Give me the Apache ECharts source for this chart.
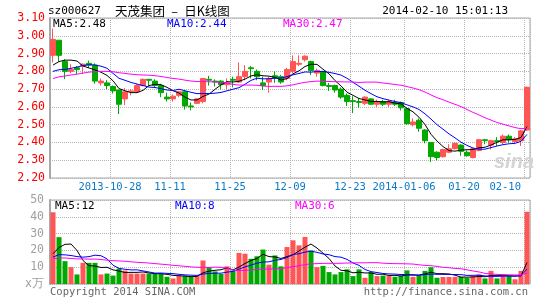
<!DOCTYPE html>
<html><head><meta charset="utf-8">
<script src="https://cdn.jsdelivr.net/npm/echarts@6/dist/echarts.min.js"></script>
<style>html,body{margin:0;padding:0;background:#fff}#c{width:545px;height:300px}</style>
</head><body><div id="c"></div>
<script>
const dates = [
'2013-10-14','2013-10-15','2013-10-16','2013-10-17','2013-10-18','2013-10-21','2013-10-22','2013-10-23','2013-10-24','2013-10-25',
'2013-10-28','2013-10-29','2013-10-30','2013-10-31','2013-11-01','2013-11-04','2013-11-05','2013-11-06','2013-11-07','2013-11-08',
'2013-11-11','2013-11-12','2013-11-13','2013-11-14','2013-11-15','2013-11-18','2013-11-19','2013-11-20','2013-11-21','2013-11-22',
'2013-11-25','2013-11-26','2013-11-27','2013-11-28','2013-11-29','2013-12-02','2013-12-03','2013-12-04','2013-12-05','2013-12-06',
'2013-12-09','2013-12-10','2013-12-11','2013-12-12','2013-12-13','2013-12-16','2013-12-17','2013-12-18','2013-12-19','2013-12-20',
'2013-12-23','2013-12-24','2013-12-25','2013-12-26','2013-12-27','2013-12-30','2013-12-31','2014-01-02','2014-01-03','2014-01-06',
'2014-01-07','2014-01-08','2014-01-09','2014-01-10','2014-01-13','2014-01-14','2014-01-15','2014-01-16','2014-01-17','2014-01-20',
'2014-01-21','2014-01-22','2014-01-23','2014-01-24','2014-01-27','2014-01-28','2014-01-29','2014-01-30','2014-02-07','2014-02-10'];

const openP = [2.89,2.975,2.855,2.80,2.82,2.83,2.845,2.835,2.735,2.735,
2.715,2.695,2.645,2.685,2.685,2.72,2.755,2.745,2.72,2.655,
2.645,2.665,2.685,2.605,2.62,2.63,2.755,2.745,2.745,2.725,
2.755,2.74,2.77,2.82,2.80,2.735,2.74,2.775,2.77,2.76,
2.80,2.84,2.865,2.855,2.79,2.80,2.72,2.72,2.70,2.665,
2.635,2.63,2.62,2.645,2.615,2.63,2.615,2.625,2.625,2.59,
2.50,2.525,2.47,2.40,2.345,2.32,2.345,2.365,2.385,2.345,
2.315,2.355,2.415,2.385,2.41,2.40,2.435,2.405,2.41,2.47];
const closeP = [2.98,2.89,2.80,2.81,2.81,2.84,2.835,2.745,2.745,2.72,
2.69,2.615,2.685,2.69,2.72,2.755,2.75,2.72,2.68,2.645,
2.66,2.685,2.605,2.60,2.645,2.76,2.75,2.74,2.725,2.735,
2.75,2.77,2.80,2.815,2.77,2.72,2.76,2.765,2.74,2.81,
2.855,2.845,2.885,2.805,2.805,2.72,2.715,2.695,2.655,2.63,
2.63,2.625,2.655,2.615,2.63,2.615,2.63,2.615,2.595,2.505,
2.515,2.48,2.41,2.32,2.315,2.36,2.365,2.395,2.35,2.325,
2.365,2.415,2.41,2.41,2.405,2.435,2.415,2.42,2.465,2.71];
const highP = [3.04,2.975,2.868,2.84,2.83,2.845,2.86,2.845,2.76,2.75,
2.72,2.695,2.705,2.70,2.73,2.76,2.755,2.755,2.73,2.68,
2.67,2.69,2.695,2.625,2.65,2.76,2.775,2.755,2.75,2.76,
2.77,2.85,2.835,2.83,2.81,2.77,2.77,2.80,2.78,2.82,
2.89,2.89,2.89,2.86,2.815,2.80,2.735,2.725,2.71,2.675,
2.66,2.65,2.66,2.65,2.64,2.64,2.64,2.64,2.63,2.595,
2.535,2.535,2.475,2.40,2.35,2.365,2.39,2.40,2.39,2.355,
2.37,2.42,2.42,2.415,2.43,2.445,2.445,2.43,2.47,2.715];
const lowP = [2.85,2.855,2.756,2.79,2.785,2.785,2.82,2.73,2.72,2.70,
2.675,2.56,2.61,2.665,2.68,2.715,2.72,2.71,2.655,2.63,
2.63,2.655,2.585,2.58,2.615,2.62,2.72,2.715,2.70,2.70,
2.71,2.735,2.75,2.76,2.75,2.695,2.68,2.735,2.73,2.75,
2.79,2.83,2.855,2.78,2.77,2.715,2.69,2.68,2.645,2.605,
2.565,2.595,2.61,2.61,2.60,2.605,2.60,2.605,2.58,2.50,
2.49,2.46,2.395,2.29,2.30,2.315,2.34,2.36,2.325,2.32,
2.31,2.35,2.39,2.36,2.38,2.39,2.40,2.39,2.38,2.465];
const volume = [42.7,27.9,13.6,10,5.7,12.6,12.6,12.6,5.7,6.2,
5,9.2,8,6.2,6.2,6.2,6.2,6,6,4.3,
3.3,5,5,4.3,5,14,10,7.5,6,10.5,
8,18.5,18,15,16.5,20.5,11.5,17,10.5,22,
26,23,28,20,10,10.8,7.1,5.7,7.1,8.7,
4.7,8.7,3.7,7.1,4.7,5,4.7,4.3,5,8.1,
4.2,5,7.8,10,3.7,4.2,4.2,4.2,4.2,3.7,
4.7,5.7,3.3,7.8,3.3,5.7,4.7,2.8,7.8,43];
// estimated closes / volumes of the 29 sessions before the window (only feed the moving averages)
const priorCloses = [2.62,2.64,2.65,2.66,2.67,2.66,2.68,2.695,
2.72,2.75,2.78,2.80,2.82,2.81,2.80,2.79,2.80,2.81,2.82,2.815,
2.80,2.78,2.75,2.74,2.755,2.79,2.76,2.81,2.835];
const priorVolumes = [12,15,18,14,13,16,12,14,17,15,13,14,16,15,12,14,16,15,14,15,
13,15,14,12,16,9.4,4.1,9,24.8];
const tickDates = ['2013-10-28','2013-11-11','2013-11-25','2013-12-09','2013-12-23','2014-01-06','2014-01-20','2014-02-10'];
const tickLabels = ['2013-10-28','11-11','11-25','12-09','12-23','2014-01-06','01-20','02-10'];
const maTitles = ['MA5:2.48','MA10:2.44','MA30:2.47'];
const volMaTitles = ['MA5:12','MA10:8','MA30:6'];

const UP = '#ff5555', DOWN = '#00a800';
const MONO = 'DejaVu Sans Mono';
const GRIDC = '#b4b4b4';

function movingAvg(n, prior, vals) {
  const all = prior.concat(vals), off = prior.length;
  return vals.map((v, i) => {
    const k = off + i;
    if (k - n + 1 < 0) return '-';
    let s = 0;
    for (let j = k - n + 1; j <= k; j++) s += all[j];
    return +(s / n).toFixed(4);
  });
}
const kData = dates.map((d, i) => [openP[i], closeP[i], lowP[i], highP[i]]);
const isTick = (idx, val) => tickDates.indexOf(val) >= 0;
const tickFmt = v => { const k = tickDates.indexOf(v); return k >= 0 ? tickLabels[k] : ''; };

const chart = echarts.init(document.getElementById('c'), null, {renderer: 'canvas'});
const lineS = (name, data, color, xi, yi) => ({
  name, type: 'line', data, xAxisIndex: xi, yAxisIndex: yi, symbol: 'none', smooth: false,
  lineStyle: {color, width: 1}, silent: true, z: 5
});
const txt = (text, x, y, color, size, family, align) => ({
  type: 'text', x, y, silent: true, z: 100,
  style: {text, fill: color, fontSize: size, fontFamily: family || MONO, align: align || 'left', verticalAlign: 'middle'}
});

const option = {
  animation: false,
  backgroundColor: '#fff',
  grid: [
    {left: 50, right: 15, top: 18, height: 160, show: true, borderColor: '#a8a8a8', borderWidth: 1},
    {left: 50, right: 15, top: 200, height: 84, show: true, borderColor: '#a8a8a8', borderWidth: 1}
  ],
  xAxis: [
    {type: 'category', gridIndex: 0, data: dates, boundaryGap: true,
     axisLine: {show: false}, axisTick: {show: false},
     axisLabel: {interval: isTick, formatter: tickFmt, color: '#0a7ac8', fontFamily: MONO, fontSize: 10.5,
                 margin: 4, padding: [0, 6, 0, 0], alignMaxLabel: 'right', showMaxLabel: true},
     splitLine: {show: true, interval: isTick, lineStyle: {color: GRIDC, type: 'dotted', width: 1}}},
    {type: 'category', gridIndex: 1, data: dates, boundaryGap: true,
     axisLine: {show: false}, axisTick: {show: false}, axisLabel: {show: false},
     splitLine: {show: true, interval: isTick, lineStyle: {color: GRIDC, type: 'dotted', width: 1}}}
  ],
  yAxis: [
    {type: 'value', gridIndex: 0, min: 2.2, max: 3.1, interval: 0.1,
     axisLine: {show: true, lineStyle: {color: '#a8a8a8', width: 2}}, axisTick: {show: false},
     axisLabel: {color: '#ff0000', fontFamily: MONO, fontSize: 11.5, margin: 5, formatter: v => v.toFixed(2)},
     splitLine: {show: true, lineStyle: {color: GRIDC, type: 'dotted', width: 1}}},
    {type: 'value', gridIndex: 1, min: 0, max: 50, interval: 10,
     axisLine: {show: true, lineStyle: {color: '#a8a8a8', width: 2}}, axisTick: {show: false},
     axisLabel: {color: '#a0a0a0', fontFamily: MONO, fontSize: 11.5, margin: 6,
                 formatter: v => v === 0 ? 'x万' : String(v)},
     splitLine: {show: true, lineStyle: {color: GRIDC, type: 'dotted', width: 1}}}
  ],
  series: [
    {name: 'K', type: 'candlestick', data: kData, xAxisIndex: 0, yAxisIndex: 0, barWidth: 5,
     itemStyle: {color: UP, color0: DOWN, borderColor: UP, borderColor0: DOWN, borderWidth: 1}, z: 3},
    lineS('MA5', movingAvg(5, priorCloses, closeP), '#000000', 0, 0),
    lineS('MA10', movingAvg(10, priorCloses, closeP), '#0000ff', 0, 0),
    lineS('MA30', movingAvg(30, priorCloses, closeP), '#ff00ff', 0, 0),
    {name: 'VOL', type: 'bar', data: volume, xAxisIndex: 1, yAxisIndex: 1, barWidth: 5,
     itemStyle: {color: p => closeP[p.dataIndex] >= openP[p.dataIndex] ? UP : DOWN}, z: 3},
    lineS('VMA5', movingAvg(5, priorVolumes, volume), '#000000', 1, 1),
    lineS('VMA10', movingAvg(10, priorVolumes, volume), '#0000ff', 1, 1),
    lineS('VMA30', movingAvg(30, priorVolumes, volume), '#ff00ff', 1, 1)
  ],
  graphic: [
    txt('sz000627', 48, 11, '#000', 11),
    txt('天茂集团\u2002–\u2002日K线图', 115, 11, '#000', 12.5, 'Noto Sans CJK SC'),
    txt('2014-02-10 15:01:13', 508, 11, '#000', 11, MONO, 'right'),
    txt(maTitles[0], 53, 24, '#000', 11),
    txt(maTitles[1], 167, 24, '#0000ff', 11),
    txt(maTitles[2], 283, 24, '#ff00ff', 11),
    txt(volMaTitles[0], 55, 206, '#000', 11),
    txt(volMaTitles[1], 175, 206, '#0000ff', 11),
    txt(volMaTitles[2], 295, 206, '#ff00ff', 11),
    txt('Copyright 2014 SINA.COM', 50, 292, '#666', 10.5),
    txt('http://finance.sina.com.cn', 528, 292, '#666', 10.5, MONO, 'right'),
    {type: 'text', x: 494, y: 162, silent: true, z: 1,
     style: {text: 'sina', fill: '#d4d4d4', fontSize: 20, fontStyle: 'italic', fontWeight: 'bold',
             fontFamily: 'Liberation Sans', align: 'left', verticalAlign: 'middle'}}
  ]
};
chart.setOption(option);
</script>
</body></html>
